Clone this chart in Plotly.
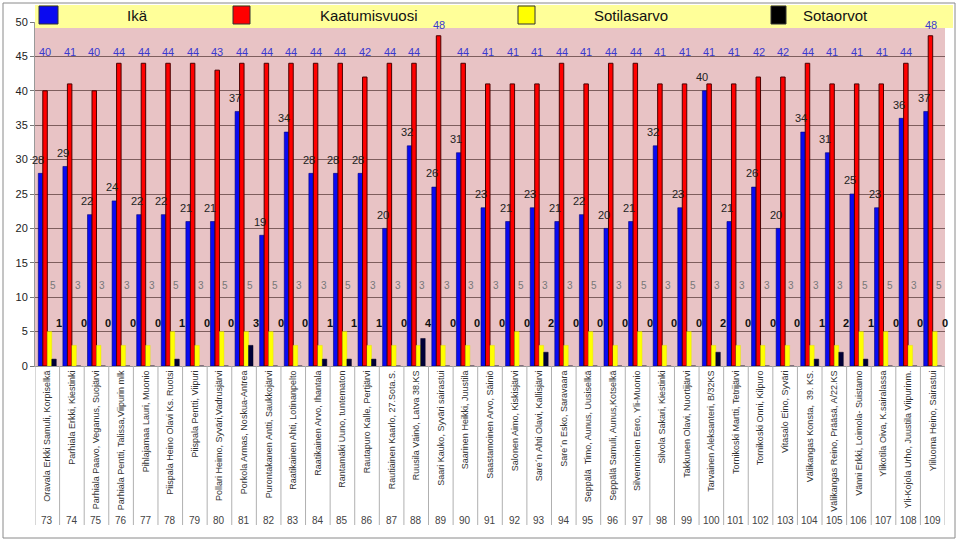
import plotly.graph_objects as go

numbers = list(range(73, 110))
names = [
    "Oravala Erkki Samuli, Korpiselkä", "Parhiala Erkki, Kiestinki", "Parhiala Paavo, Veganus, Suojärvi",
    "Parhiala Pentti, Talissa,Viipurin mlk", "Pihlajamaa Lauri, Muonio", "Piispala Heino Olavi Ks. Ruotsi",
    "Piispala Pentti, Viipuri", "Pollari Heimo, Syväri,Vadrusjärvi", "Porkola Armas, Noskua-Antrea",
    "Purontakanen Antti, Saukkojärvi", "Raatikainen Ahti, Lotinanpelto", "Raatikainen Arvo, Ihantala",
    "Rantamäki Uuno, tuntematon", "Rautapuro Kalle, Pertjärvi", "Rautiainen Kaarlo, 27.Sota.S.",
    "Ruusila Väinö, Latva 38.KS", "Saari Kauko, Syväri sairastui", "Saarinen Heikki, Juustila",
    "Saastamoinen Arvo, Säiniö", "Salonen Aimo, Kiskisjärvi", "Sare´n Ahti Olavi, Kallisjärvi",
    "Sare´n Esko, Saravaara", "Seppälä  Timo, Aunus, Uusiselkä", "Seppälä Samuli, Aunus,Kotselkä",
    "Silvennoinen Eero, Yli-Muonio", "Silvola Sakari, Kiestinki", "Takkunen Olavi, Nuortijärvi",
    "Tarvainen Aleksanteri, B/32KS", "Tornikoski Martti, Tetrijärvi", "Tornikoski Onni, Kilpuro",
    "Vitasalo Eino, Syväri", "Välikangas Konsta,  39. KS.", "Välikangas Reino, Prääsä, A/22.KS",
    "Vänni Erkki, Loimola- Suistamo", "Ylikotila Oiva, K.sairalassa", "Yli-Kojola Urho, Juustila Viipurinm.",
    "Yliluoma Heino, Sairastui",
]
ika = [28, 29, 22, 24, 22, 22, 21, 21, 37, 19, 34, 28, 28, 28, 20, 32, 26, 31, 23, 21, 23, 21,
       22, 20, 21, 32, 23, 40, 21, 26, 20, 34, 31, 25, 23, 36, 37]
kaatumisvuosi = [40, 41, 40, 44, 44, 44, 44, 43, 44, 44, 44, 44, 44, 42, 44, 44, 48, 44, 41, 41, 41, 44,
                 41, 44, 44, 41, 41, 41, 41, 42, 42, 44, 41, 41, 41, 44, 48]
sotilasarvo = [5, 3, 3, 3, 3, 5, 3, 5, 5, 5, 3, 3, 5, 3, 3, 3, 3, 3, 3, 5, 3, 3, 5, 3, 5, 3, 5, 3,
               3, 3, 3, 3, 3, 5, 5, 3, 5]
sotaorvot = [1, 0, 0, 0, 0, 1, 0, 0, 3, 0, 0, 1, 1, 1, 0, 4, 0, 0, 0, 0, 2, 0, 0, 0, 0, 0, 0, 2,
             0, 0, 0, 1, 2, 1, 0, 0, 0]
series_names = ["Ikä", "Kaatumisvuosi", "Sotilasarvo", "Sotaorvot"]

W, H = 959, 542
L, R, T, B = 35, 14, 22, 176
pw, ph = W - L - R, H - T - B


def fx(px):
    return (px - L) / pw


def fy(py):
    return (H - B - py) / ph


idx = list(range(len(numbers)))
FONT = "Arial, Liberation Sans, sans-serif"

fig = go.Figure()
fig.add_trace(go.Bar(x=idx, y=ika, name=series_names[0], marker=dict(color="#0A0AF0", line=dict(color="#00007A", width=0.6))))
fig.add_trace(go.Bar(x=idx, y=kaatumisvuosi, name=series_names[1], marker=dict(color="#FF0000", line=dict(color="#4A0000", width=1))))
fig.add_trace(go.Bar(x=idx, y=sotilasarvo, name=series_names[2], marker=dict(color="#FFFF00", line=dict(color="#E0E000", width=0.4))))
fig.add_trace(go.Bar(x=idx, y=sotaorvot, name=series_names[3], marker=dict(color="#000038", line=dict(color="#000020", width=0.5))))

ann = []
shapes = []
C = dict(xanchor="center", yanchor="middle", showarrow=False)
for i in idx:
    # data labels
    ann.append(dict(x=i, y=ika[i] + 2, xref="x", yref="y", text=str(ika[i]),
                    xshift=-9, font=dict(size=11, color="#222222", family=FONT), **C))
    ky = kaatumisvuosi[i] + 1.5 if kaatumisvuosi[i] > 45 else 45.6
    ann.append(dict(x=i, y=ky, xref="x", yref="y", text=str(kaatumisvuosi[i]),
                    xshift=-2, font=dict(size=11, color="#3A3AD0", family=FONT), **C))
    ann.append(dict(x=i, y=11.7, xref="x", yref="y", text=str(sotilasarvo[i]),
                    xshift=6, font=dict(size=10, color="#777777", family=FONT), **C))
    ann.append(dict(x=i, y=6.3, xref="x", yref="y", text="<b>%d</b>" % sotaorvot[i],
                    xshift=12, font=dict(size=11, color="#111111", family=FONT), **C))
    # bottom numbers
    ann.append(dict(x=i, y=fy(520), xref="x", yref="paper", text=str(numbers[i]),
                    font=dict(size=10, color="#444444", family=FONT), **C))

for i in range(len(numbers) + 1):
    shapes.append(dict(type="line", xref="x", yref="paper", x0=i - 0.5, x1=i - 0.5, y0=0, y1=fy(525),
                       line=dict(color="#B0B0B0", width=1)))

# outer frame
shapes.append(dict(type="rect", xref="paper", yref="paper", x0=fx(3), x1=fx(955), y0=fy(538), y1=fy(3),
                   line=dict(color="#8A8A8A", width=1), layer="below"))
# legend band
shapes.append(dict(type="rect", xref="paper", yref="paper", x0=fx(35), x1=fx(953), y0=fy(28), y1=fy(5),
                   fillcolor="#FFFF99", line=dict(width=0), layer="above"))
legend_items = [
    ("#0A0AF0", 39, 58, 137),
    ("#FF0000", 233, 250, 369),
    ("#FFFF00", 518, 535, 631),
    ("#000000", 771, 786, 835),
]
for (col, x0, x1, tx), nm in zip(legend_items, series_names):
    shapes.append(dict(type="rect", xref="paper", yref="paper", x0=fx(x0), x1=fx(x1), y0=fy(24), y1=fy(6),
                       fillcolor=col, line=dict(color="#333333", width=1), layer="above"))
    ann.append(dict(x=fx(tx), y=fy(16), xref="paper", yref="paper", text=nm,
                    font=dict(size=15, color="#111111", family=FONT), **C))

fig.update_layout(
    width=W, height=H,
    margin=dict(l=L, r=R, t=T, b=B, autoexpand=False),
    paper_bgcolor="white", plot_bgcolor="#E8C3C5",
    barmode="group", bargap=0.27, bargroupgap=0,
    showlegend=False,
    annotations=ann, shapes=shapes,
    font=dict(family=FONT),
    xaxis=dict(range=[-0.5, len(numbers) - 0.5], tickmode="array", tickvals=idx, ticktext=names,
               tickangle=-90, tickfont=dict(size=9, color="#333333", family=FONT), showgrid=False,
               zeroline=False, showline=True, linecolor="#999999", ticks="", automargin=False,
               fixedrange=True),
    yaxis=dict(range=[0, 50], dtick=5, tick0=0, showgrid=True, gridcolor="#7E5E5E", gridwidth=1,
               zeroline=False, showline=True, linecolor="#999999", ticks="outside", ticklen=4,
               tickcolor="#777777", tickfont=dict(size=11, color="#222222", family=FONT),
               automargin=False, fixedrange=True),
)

fig.write_html("out.html")
